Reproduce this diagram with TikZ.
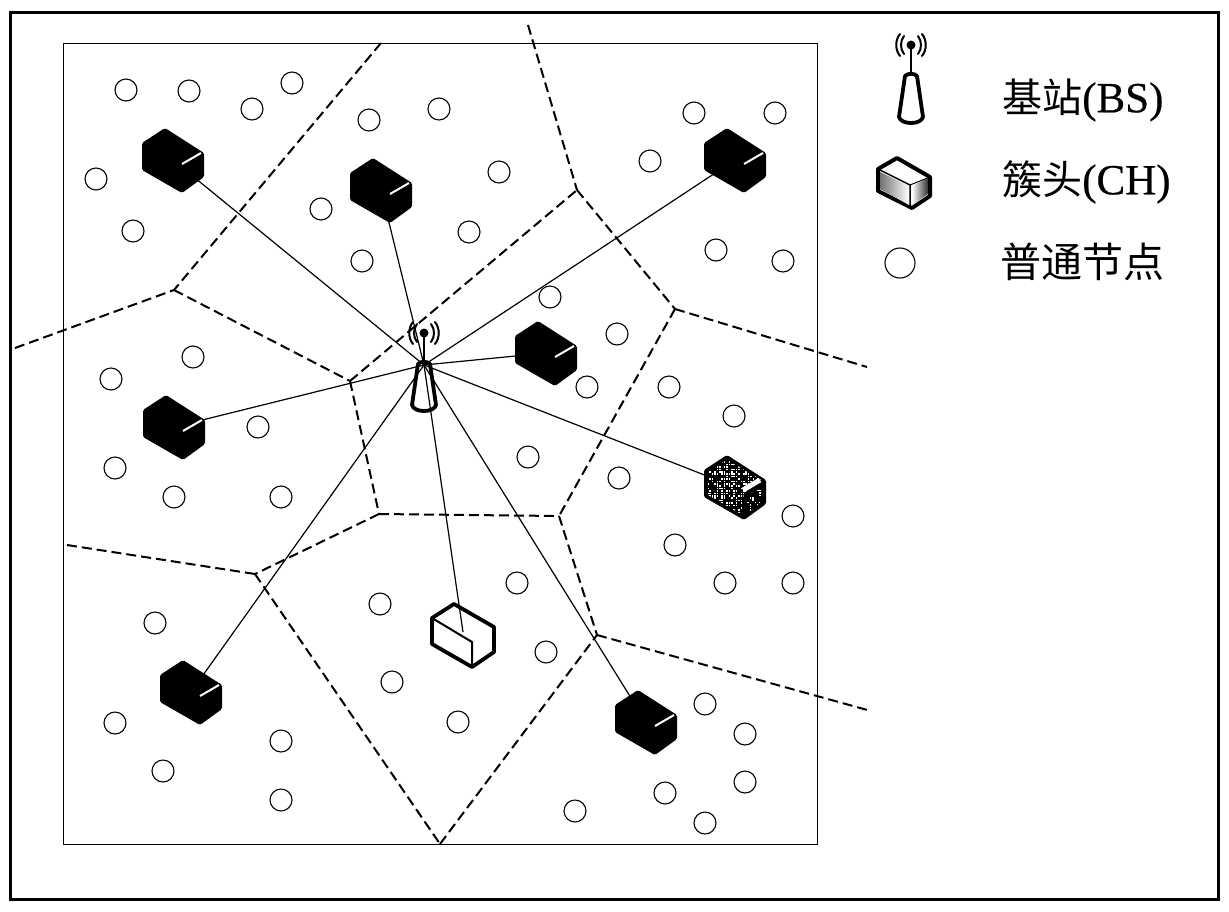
\documentclass[tikz,border=0pt]{standalone}
\usepackage{fontspec}
\setmainfont{Liberation Serif}
\newfontfamily\lat[FakeBold=0.5]{Liberation Serif}
\newfontfamily\cjk{Noto Sans CJK SC}
\usetikzlibrary{patterns}
\tikzset{
  ordinary/.style={circle,draw=black,line width=1.1pt,fill=white,minimum size=22pt,inner sep=0pt},
  link/.style={draw=black,line width=1.2pt},
  border/.style={draw=black,line width=2pt,dash pattern=on 10pt off 5pt},
  label/.style={anchor=west,inner sep=0pt,font=\fontsize{40}{40}\selectfont},
  cubeblack/.pic={
    \fill[black,rounded corners=1.5pt] (-8,-32)--(-31,-17)--(-31,10)--(9,33)--(31,17)--(31,-7)--cycle;
    \draw[white,line width=2pt] (9,4)--(28,-7);
  },
  cubenoise/.pic={
    \fill[black,rounded corners=1.5pt] (-8,-32)--(-31,-17)--(-31,10)--(9,33)--(31,17)--(31,-7)--cycle;
    \begin{scope}
      \clip (-8,-27)--(-27,-16)--(-27,8)--(6,27)--(9,6)--(27,-7)--cycle;
      \pgfmathsetseed{7}
      \foreach \u in {-28,-25.6,...,28} \foreach \v in {-28,-25.6,...,28} {
        \pgfmathparse{rnd<0.48?1:0}
        \ifnum\pgfmathresult=1 \fill[white] (\u,\v) rectangle ++(1.6,1.6); \fi
      }
    \end{scope}
    \begin{scope}
      \clip (12,9)--(27,0)--(27,14)--(12,27)--cycle;
      \pgfmathsetseed{11}
      \foreach \u in {10,12.4,...,28} \foreach \v in {-2,0.4,...,28} {
        \pgfmathparse{rnd<0.28?1:0}
        \ifnum\pgfmathresult=1 \fill[white] (\u,\v) rectangle ++(1.6,1.6); \fi
      }
    \end{scope}
    \draw[white,line width=5pt] (8,3)--(25,-7);
  },
  cubeopen/.pic={
    \draw[black,line width=3.8pt,fill=white,line join=round] (-9,-31)--(-31,-17)--(-31,9)--(9,32)--(31,17)--(31,-8)--cycle;
    \draw[black,line width=2pt] (-31,-17)--(9,7)--(9,32);
  },
  cubelegend/.pic={
    \draw[black,line width=4pt,fill=white,line join=round] (-7,-25)--(-26,-14)--(-26,8)--(8,25)--(26,13)--(26,-6)--cycle;
    \shade[left color=black!55,right color=white] (-24,-11)--(5,3)--(5,22)--(-24,6)--cycle;
    \shade[left color=white,right color=black!80] (8,3)--(24,-5)--(24,11)--(8,22)--cycle;
    \draw[black,line width=1.5pt] (-26,-14)--(6,2)--(6,24);
    \draw[black,line width=1pt] (6,2)--(26,-6);
  },
  tower/.pic={
    \fill[black] (0,0) circle (4.5);
    \draw[black,line width=2.2pt] (0,0)--(0,30);
    \draw[black,line width=2pt,line cap=round] (-7,-9) .. controls (-11,-4) and (-11,4) .. (-7,9);
    \draw[black,line width=2pt,line cap=round] (7,-9) .. controls (11,-4) and (11,4) .. (7,9);
    \draw[black,line width=2pt,line cap=round] (-11,-11) .. controls (-16,-5) and (-16,5) .. (-11,11);
    \draw[black,line width=2pt,line cap=round] (11,-11) .. controls (16,-5) and (16,5) .. (11,11);
    \draw[black,line width=3.8pt,fill=white,line join=round]
      (-6,31) .. controls (-3,28) and (3,28) .. (6,31) -- (12,72) .. controls (10,80) and (-10,80) .. (-12,72) -- cycle;
  }
}
\begin{document}
\begin{tikzpicture}[x=1pt,y=-1pt]
\useasboundingbox (0,0) rectangle (1229,911);
\fill[white] (0,0) rectangle (1229,911);
\draw[black,line width=3pt] (10,12) rectangle (1218,899);
\draw[black,line width=1pt] (63,43) rectangle (817,844);

% region borders
\coordinate (v1) at (174,290);
\coordinate (v2) at (350,381);
\coordinate (v3) at (577,190);
\coordinate (v4) at (675,309);
\coordinate (v5) at (559,516);
\coordinate (v6) at (379,514);
\coordinate (v7) at (255,574);
\coordinate (v8) at (440,844);
\coordinate (v9) at (597,635);
\coordinate (e1) at (381,43);
\coordinate (e2) at (15,348);
\coordinate (e3) at (528,25);
\coordinate (e4) at (867,367);
\coordinate (e5) at (67,545);
\coordinate (e6) at (871,711);
\draw[border] (e1)--(v1);
\draw[border] (e2)--(v1);
\draw[border] (v1)--(v2);
\draw[border] (v2)--(v3);
\draw[border] (e3)--(v3);
\draw[border] (v3)--(v4);
\draw[border] (v4)--(e4);
\draw[border] (v4)--(v5);
\draw[border] (v2)--(v6);
\draw[border] (v6)--(v5);
\draw[border] (v6)--(v7);
\draw[border] (e5)--(v7);
\draw[border] (v7)--(v8);
\draw[border] (v8)--(v9);
\draw[border] (v5)--(v9);
\draw[border] (v9)--(e6);

% ordinary nodes
\foreach \x/\y [count=\i] in {126/90,189/91,252/109,292/83,369/120,439/109,694/113,775/113,650/161,499/172,96/179,133/231,321/209,469/232,362/261,716/250,783/261,550/297,617/334,193/357,111/379,587/387,669/387,734/416,258/427,528/457,115/468,619/478,174/497,281/497,793/516,675/545,725/583,793/583,517/583,380/604,155/623,546/652,392/682,705/704,115/723,458/722,745/734,281/741,163/771,745/782,665/793,281/800,575/811,705/823}
  \node[ordinary] (n\i) at (\x,\y) {};

% base station
\pic at (424,333) {tower};
\coordinate (bs) at (424,365);

% cluster heads
\coordinate (c1) at (173,160);
\coordinate (c2) at (381,190);
\coordinate (c3) at (735,160);
\coordinate (c4) at (546,353);
\coordinate (c5) at (174,427);
\coordinate (c6) at (735,487);
\coordinate (c7) at (463,632);
\coordinate (c8) at (191,692);
\coordinate (c9) at (646,722);
\coordinate (c7box) at (463,635);

\pic at (c7box) {cubeopen};
\foreach \c in {c1,c2,c3,c4,c5,c6,c7,c8,c9}
  \draw[link] (bs)--(\c);
\foreach \c in {c1,c2,c3,c4,c5,c8,c9}
  \pic at (\c) {cubeblack};
\pic at (c6) {cubenoise};

% legend
\pic at (911,45) {tower};
\pic at (904,183) {cubelegend};
\node[ordinary,minimum size=30pt] (lg) at (900,263) {};
\node[label] (t1) at (1002,100) {{\cjk 基站}{\lat\fontsize{43}{43}\selectfont (BS)}};
\node[label] (t2) at (1002,182) {{\cjk 簇头}{\lat\fontsize{43}{43}\selectfont (CH)}};
\node[label] (t3) at (1000,262) {\cjk\fontsize{41}{41}\selectfont 普通节点};
\end{tikzpicture}
\end{document}
